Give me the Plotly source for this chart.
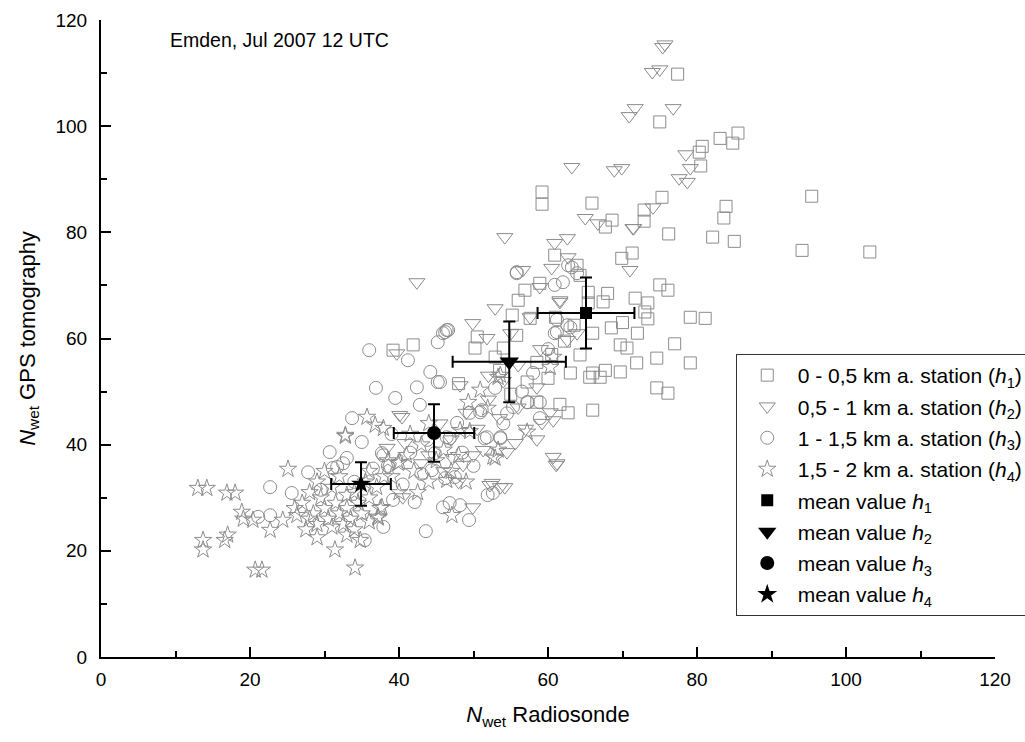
import plotly.graph_objects as go

# ---- data ----
x_h1 = [77.4,75.0,80.7,80.3,80.5,83.1,84.8,85.5,95.4,83.9,83.6,85.0,94.1,103.2,65.9,68.6,67.7,72.9,72.9,75.3,
        76.2,82.1,59.2,59.2,71.3,69.9,75.0,76.1,71.7,73.4,73.0,73.4,69.7,70.6,74.6,71.9,69.7,67.7,66.0,65.6,
        64.3,66.0,68.0,67.4,65.4,65.4,64.3,63.9,60.9,56.9,56.0,58.9,55.2,57.6,55.8,50.5,50.2,52.9,54.0,74.6,
        76.1,66.0,62.7,61.6,57.2,63.0,67.0,79.1,81.1,79.1,41.9,39.2,58.5,60.5,62.2,53.5,48.0,55.0,61.0,63.5,
        68.5,70.0,72.0,77.0,60.0,58.5]
y_h1 = [109.8,100.8,96.2,95.1,92.5,97.7,96.8,98.7,86.8,84.9,82.7,78.3,76.6,76.3,85.5,82.3,81.0,84.2,82.1,86.6,
        79.7,79.1,87.6,85.3,76.1,75.1,70.1,69.1,67.6,66.7,65.0,63.7,58.8,58.2,56.3,55.4,53.7,54.0,53.5,52.7,
        56.9,61.0,68.5,66.9,68.7,66.7,71.9,73.8,75.7,69.1,67.2,70.4,64.4,63.8,60.6,60.3,58.2,56.5,58.2,50.7,
        49.7,46.5,46.0,47.6,51.8,53.5,52.7,64.0,63.8,55.4,58.8,57.8,55.5,57.0,59.5,54.0,51.5,49.5,64.0,62.5,
        62.0,63.0,61.0,59.0,52.5,48.0]

x_h2 = [75.4,75.7,74.0,75.0,71.7,70.9,76.8,63.2,68.9,69.9,78.5,79.1,77.6,78.7,65.0,66.7,71.5,74.1,62.6,54.2,
        60.9,62.7,60.5,71.0,71.4,56.6,58.9,61.6,52.9,49.9,51.8,57.6,62.6,63.9,42.4,61.6,61.2,53.6,52.2,60.7,
        61.1,54.2,52.5,49.9,48.6,47.2,60.3,59.2,60.7,55.6,54.5,51.3,48.2,58.5,39.7,40.4,40.8,38.4,40.1,40.5,
        45.5,47.0,49.0,50.5,52.0,53.5,56.0,57.0,58.5,44.0,46.0,48.0,43.0,50.0,56.0,54.0,59.0,52.0,55.0]
y_h2 = [114.9,115.4,110.2,110.7,103.4,101.9,103.4,92.3,91.7,92.1,94.7,92.1,90.2,89.5,82.7,81.7,80.8,84.7,78.9,79.1,
        78.0,75.3,73.3,72.9,80.8,72.9,69.7,67.2,65.7,62.9,60.1,64.0,59.7,61.0,70.6,66.9,36.5,32.0,32.4,37.7,
        36.2,32.0,32.8,28.2,36.2,37.5,46.1,44.1,44.6,40.3,38.6,39.0,51.2,50.8,57.2,45.2,40.3,39.4,45.6,30.1,
        44.0,41.0,46.0,43.0,48.5,45.0,47.0,43.0,41.0,38.0,35.0,33.0,36.5,38.0,55.0,52.0,58.0,53.0,61.0]

x_h3 = [36.0,41.2,44.2,45.2,42.4,36.9,39.5,42.8,45.2,46.2,33.7,37.7,30.7,27.8,55.8,62.7,60.9,62.0,46.4,61.2,
        62.6,60.9,58.9,57.2,55.3,53.6,51.8,49.5,51.1,47.8,46.4,43.8,31.7,63.2,63.9,55.8,61.2,63.0,45.9,46.6,
        45.5,52.9,50.9,57.3,58.9,51.5,53.6,54.5,46.8,46.2,47.5,51.9,52.6,45.9,46.8,48.2,44.8,44.4,22.7,21.1,
        22.7,25.6,31.1,33.0,37.9,35.4,37.9,42.1,39.2,43.6,49.4,34.0,36.5,38.5,40.5,41.5,43.0,39.0,35.0,32.5,
        29.5,48.5,50.0,54.0,56.5,58.0,60.0]
y_h3 = [57.8,55.9,53.7,51.8,50.8,50.7,48.8,47.5,59.3,61.2,45.0,38.4,38.6,34.8,72.5,73.8,70.1,70.6,61.6,63.5,
        62.5,61.0,48.0,48.0,47.1,41.4,41.4,46.0,46.5,44.1,41.4,40.9,35.8,73.4,72.3,72.3,61.2,62.1,61.0,61.6,
        51.8,50.7,46.1,48.0,45.0,41.2,41.2,45.9,41.2,33.7,33.9,30.5,30.9,28.2,29.0,28.6,38.4,35.2,32.0,26.4,
        26.7,30.9,35.6,37.5,38.0,22.0,24.5,29.2,29.6,23.7,25.8,33.0,35.5,36.0,32.5,38.5,34.5,42.0,40.5,36.5,
        31.5,38.5,36.0,44.0,50.0,53.5,58.0]

x_h4 = [13.0,14.2,16.9,18.0,18.9,19.1,20.4,13.7,13.7,16.6,17.0,20.7,21.6,22.7,24.4,25.1,26.3,31.4,34.1,34.8,
        32.8,37.2,40.1,35.7,32.8,36.8,37.9,39.9,37.7,37.2,48.2,49.5,60.7,60.3,53.6,57.2,52.6,46.4,53.3,52.9,
        47.1,53.3,51.9,49.3,50.9,27.0,28.0,28.5,29.0,29.5,30.0,30.5,31.0,31.0,31.5,32.0,32.5,33.0,33.0,33.5,
        34.0,34.0,34.5,35.0,35.5,36.0,36.0,37.0,37.5,38.0,26.0,27.5,29.0,30.0,32.0,29.0,33.0,28.0,36.0,41.0,
        42.0,43.0,44.0,45.0,46.0,47.0,48.0,49.0,42.5,39.0,40.0,38.5,41.5,44.0]
y_h4 = [31.8,31.8,30.9,30.9,27.3,26.0,25.8,22.0,20.2,22.0,23.0,16.4,16.4,23.9,25.8,35.4,26.7,20.2,16.8,22.0,
        41.6,26.2,36.7,45.2,41.8,43.7,43.1,36.5,28.2,26.4,42.7,42.5,56.5,54.6,53.1,42.4,37.7,33.3,39.0,37.5,
        26.7,52.7,46.9,48.0,50.3,29.0,31.0,27.0,25.0,30.0,28.0,26.0,24.5,32.0,29.0,27.0,25.0,30.5,28.0,26.0,
        31.0,24.0,29.0,27.0,33.0,30.0,25.5,32.0,28.0,34.0,28.0,24.0,33.0,35.0,34.0,22.5,23.0,26.0,35.0,38.0,
        35.0,40.0,33.0,37.0,39.0,35.0,38.0,33.0,31.0,34.0,31.0,37.0,42.0,44.0]

mean_x = [65.1, 54.8, 44.7, 34.9]
mean_y = [64.8, 55.6, 42.2, 32.6]
err_x = [6.5, 7.6, 5.4, 4.0]
err_y = [6.7, 7.6, 5.4, 4.1]

series_names = ["0 - 0,5 km a. station (<i>h</i><sub>1</sub>)",
                "0,5 - 1 km a. station (<i>h</i><sub>2</sub>)",
                "1 - 1,5 km a. station (<i>h</i><sub>3</sub>)",
                "1,5 - 2 km a. station (<i>h</i><sub>4</sub>)"]
mean_names = ["mean value <i>h</i><sub>1</sub>", "mean value <i>h</i><sub>2</sub>",
              "mean value <i>h</i><sub>3</sub>", "mean value <i>h</i><sub>4</sub>"]

# ---- styles ----
FONT = "Liberation Sans, Arial, sans-serif"
GREY = "#8c8c8c"
open_symbols = ["square-open", "triangle-down-open", "circle-open", "star-open"]
open_sizes = [12, 14, 13, 13]
filled_symbols = ["square", "triangle-down", "circle", "star"]
filled_sizes = [12, 17, 14, 15]

fig = go.Figure()
xs = [x_h1, x_h2, x_h3, x_h4]
ys = [y_h1, y_h2, y_h3, y_h4]
for i in range(4):
    fig.add_trace(go.Scatter(
        x=xs[i], y=ys[i], mode="markers", name=series_names[i], legendgroup=f"g{i}",
        marker=dict(symbol=open_symbols[i], size=open_sizes[i], color=GREY,
                    line=dict(color=GREY, width=1))))
for i in range(4):
    fig.add_trace(go.Scatter(
        x=[mean_x[i]], y=[mean_y[i]], mode="markers", name=mean_names[i], legendgroup=f"m{i}",
        marker=dict(symbol=filled_symbols[i], size=filled_sizes[i], color="black"),
        error_x=dict(type="data", array=[err_x[i]], color="black", thickness=2, width=6),
        error_y=dict(type="data", array=[err_y[i]], color="black", thickness=2, width=6)))

axis_common = dict(range=[0, 120], showline=True, linecolor="black", linewidth=2,
                   ticks="inside", ticklen=10, tickwidth=2, tickcolor="black",
                   showgrid=False, zeroline=False, tick0=0, dtick=20,
                   tickfont=dict(family=FONT, size=19, color="black"),
                   minor=dict(dtick=10, ticks="inside", ticklen=6, tickwidth=2, tickcolor="black"))

fig.update_layout(
    width=1025, height=742,
    margin=dict(l=101, r=30, t=20, b=85, autoexpand=False),
    paper_bgcolor="white", plot_bgcolor="white",
    font=dict(family=FONT, color="black"),
    xaxis=dict(**axis_common,
               title=dict(text="<i>N</i><sub>wet</sub> Radiosonde",
                          font=dict(family=FONT, size=22), standoff=18),
               ticklabelstandoff=4),
    yaxis=dict(**axis_common,
               title=dict(text="<i>N</i><sub>wet</sub> GPS tomography",
                          font=dict(family=FONT, size=22), standoff=14),
               ticklabelstandoff=8),
    legend=dict(x=0.71, y=0.4757, xanchor="left", yanchor="top",
                bgcolor="white", bordercolor="#333333", borderwidth=1,
                font=dict(family=FONT, size=21, color="black"),
                traceorder="grouped", tracegroupgap=1, itemwidth=51),
    annotations=[dict(text="Emden, Jul 2007 12 UTC", xref="paper", yref="paper",
                      x=0.075, y=0.969, xanchor="left", yanchor="middle", showarrow=False,
                      font=dict(family=FONT, size=19.5, color="black"))],
    showlegend=True,
)

fig.write_html("out.html")
